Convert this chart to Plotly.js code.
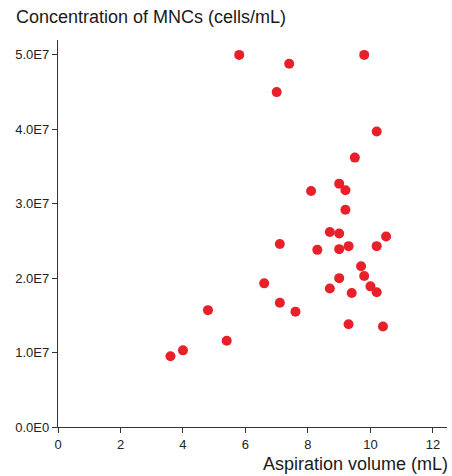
<!DOCTYPE html>
<html>
<head>
<meta charset="utf-8">
<script src="https://cdn.plot.ly/plotly-3.0.1.min.js"></script>
<style>html,body{margin:0;padding:0;background:#fff;}#chart{width:452px;height:476px;}</style>
</head>
<body>
<div id="chart"></div>
<script>
const aspirationVolume = [5.8, 7.4, 7.0, 9.8, 10.2, 9.5,
  9.0, 8.1, 9.2, 9.2, 8.7, 9.0, 10.5, 7.1, 8.3, 9.0, 9.3, 10.2, 9.7, 9.8, 9.0, 6.6, 8.7, 10.0, 9.4, 10.2, 7.1, 4.8, 7.6,
  9.3, 10.4, 5.4, 4.0, 3.6];
const mncConcentration = [5.0e7, 4.88e7, 4.5e7, 5.0e7, 3.97e7, 3.62e7,
  3.27e7, 3.17e7, 3.18e7, 2.92e7, 2.62e7, 2.6e7, 2.56e7, 2.46e7, 2.38e7, 2.39e7, 2.43e7, 2.43e7, 2.16e7, 2.03e7, 2.0e7, 1.93e7, 1.86e7, 1.89e7, 1.8e7, 1.81e7, 1.67e7, 1.57e7, 1.55e7,
  1.38e7, 1.35e7, 1.16e7, 1.03e7, 0.95e7];
const yTickVals = [0, 1e7, 2e7, 3e7, 4e7, 5e7];
const yTickText = ["0.0E0", "1.0E7", "2.0E7", "3.0E7", "4.0E7", "5.0E7"];
const xTickVals = [0, 2, 4, 6, 8, 10, 12];
const yTitle = "Concentration of MNCs (cells/mL)";
const xTitle = "Aspiration volume (mL)";

const font = "Liberation Sans, Arial, sans-serif";
Plotly.newPlot("chart", [{
  x: aspirationVolume, y: mncConcentration, type: "scatter", mode: "markers",
  marker: {color: "#e8202a", size: 10}, hoverinfo: "x+y"
}], {
  width: 452, height: 476,
  margin: {l: 58, r: 5, t: 40, b: 49},
  paper_bgcolor: "#fff", plot_bgcolor: "#fff",
  showlegend: false,
  font: {family: font, color: "#222", size: 13},
  xaxis: {range: [0, 12.45], tickvals: xTickVals, showgrid: false, zeroline: false,
    showline: true, linecolor: "#333", linewidth: 1.2, ticks: "outside", ticklen: 5, tickcolor: "#333",
    tickfont: {size: 13, color: "#222"}},
  yaxis: {range: [0, 5.2e7], tickvals: yTickVals, ticktext: yTickText, showgrid: false, zeroline: false,
    showline: true, linecolor: "#333", linewidth: 1.2, ticks: "outside", ticklen: 5, tickcolor: "#333",
    tickfont: {size: 13, color: "#222"}},
  annotations: [
    {text: yTitle, xref: "paper", yref: "paper", x: -0.113, y: 1.059, xanchor: "left", yanchor: "middle",
     showarrow: false, font: {size: 18, color: "#1a1a1a"}},
    {text: xTitle, xref: "paper", yref: "paper", x: 1.0077, y: -0.0956, xanchor: "right", yanchor: "middle",
     showarrow: false, font: {size: 18, color: "#1a1a1a"}}
  ]
}, {staticPlot: true});
</script>
</body>
</html>
